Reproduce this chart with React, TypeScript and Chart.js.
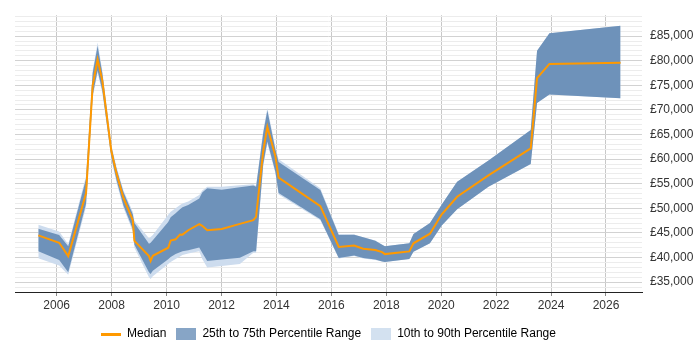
import React, { useEffect, useRef } from 'react';
import { Chart, registerables } from 'chart.js';

Chart.register(...registerables);

// ---- data (decimal years) ----
const years = [
  2005.33, 2006.09, 2006.42, 2007.07, 2007.31, 2007.49, 2007.66, 2007.99, 2008.18, 2008.43,
  2008.77, 2008.83, 2009.36, 2009.42, 2009.5, 2010.06, 2010.15, 2010.33, 2010.49, 2010.58,
  2010.79, 2011.19, 2011.3, 2011.48, 2012.01, 2012.67, 2013.16, 2013.26, 2013.52, 2013.67,
  2013.96, 2014.08, 2015.6, 2016.27, 2016.83, 2017.16, 2017.6, 2017.85, 2017.95, 2018.84,
  2018.99, 2019.59, 2020.02, 2020.58, 2021.72, 2023.26, 2023.49, 2023.94, 2026.53,
];
const median = [
  44500, 43000, 40300, 53100, 75000, 80250, 76000, 61650, 57050, 52100,
  47600, 43400, 40300, 39300, 40350, 42000, 43450, 43700, 44700, 44650,
  45550, 46800, 46450, 45550, 45800, 46850, 47600, 48250, 61650, 66550,
  60650, 56250, 50450, 42150, 42450, 41800, 41550, 41100, 40700, 41250,
  42900, 44850, 48800, 52350, 56700, 62200, 76450, 79350, 79600,
];
const p25 = [
  41300, 39500, 37000, 51000, 73000, 78000, 74000, 60400, 55700, 50600,
  45800, 42600, 37000, 36650, 37300, 39650, 40100, 40700, 41100, 41300,
  41500, 42050, 41000, 39300, 39600, 39950, 41300, 41300, 59000, 63600,
  57500, 53100, 47800, 39900, 40400, 39900, 39600, 39200, 39100, 39700,
  41200, 42900, 46500, 49800, 54400, 59000, 71400, 73150, 72350,
];
const p75 = [
  45850, 44600, 42300, 56000, 77500, 83000, 77500, 62400, 58000, 53300,
  48800, 47000, 42800, 43000, 43500, 47200, 48200, 49000, 49800, 50200,
  50700, 52000, 53200, 54100, 53800, 54300, 54650, 54400, 65300, 69900,
  62000, 59400, 53750, 44600, 44650, 44100, 43400, 42600, 42300, 42900,
  44800, 47000, 50800, 55400, 59700, 65900, 82000, 85600, 87100,
];
const p10 = [
  39850, 38400, 36500, 50300, 72500, 77500, 73500, 60000, 55200, 50100,
  45300, 42000, 36000, 35650, 36200, 38700, 39100, 39700, 40200, 40500,
  40800, 41300, 39700, 38000, 38300, 38700, 41000, 41000, 58500, 63200,
  57200, 52800, 47600, 39800, 40300, 39800, 39500, 39200, 39100, 39700,
  41200, 42900, 46500, 49800, 54400, 59000, 71400, 73150, 72350,
];
const p90 = [
  46650, 45300, 42700, 56600, 78000, 83700, 78000, 62900, 58400, 53700,
  49300, 47500, 43900, 44200, 44600, 48700, 49300, 50000, 50700, 51000,
  51400, 52700, 53600, 54400, 54400, 54700, 54900, 54600, 65800, 70400,
  62500, 60000, 54100, 44800, 44700, 44150, 43450, 42600, 42300, 42900,
  44800, 47000, 50800, 55400, 59700, 65900, 82000, 85600, 87100,
];

const xTickYears = [2006, 2008, 2010, 2012, 2014, 2016, 2018, 2020, 2022, 2024, 2026];
const yLabelValues = [35000, 40000, 45000, 50000, 55000, 60000, 65000, 70000, 75000, 80000, 85000];
const legendLabels = ['Median', '25th to 75th Percentile Range', '10th to 90th Percentile Range'];

const X_MIN = 2004.482;
const X_MAX = 2027.311;
const Y_MIN = 33000;
const Y_MAX = 89246;
const Y_MINOR_STEP = 1000;

const MEDIAN_COLOR = '#ff9900';
const IQR_COLOR = '#6e92ba';
const IQR_LEGEND = '#87a5c6';
const DECILE_COLOR = '#cddcee';
const DECILE_LEGEND = '#d3e1f0';
const FONT = { family: '"Liberation Sans", Arial, sans-serif', size: 12 };

function swatch(w: number, h: number, color: string): HTMLCanvasElement {
  const c = document.createElement('canvas');
  c.width = w;
  c.height = h;
  const g = c.getContext('2d')!;
  g.fillStyle = color;
  g.fillRect(0, 0, w, h);
  return c;
}

const centerLegendPlugin = {
  id: 'centerLegend',
  afterLayout(chart: any) {
    const lg = chart.legend;
    if (!lg) return;
    const { left, right } = chart.chartArea;
    lg.left = left;
    lg.right = right;
    lg.width = right - left;
  },
};

function pts(vals: number[]) {
  return years.map((x, i) => ({ x, y: vals[i] }));
}

export default function App() {
  const ref = useRef<HTMLCanvasElement>(null);

  useEffect(() => {
    if (!ref.current) return;
    const swatches = [
      swatch(20, 3, MEDIAN_COLOR),
      swatch(20, 12, IQR_LEGEND),
      swatch(20, 12, DECILE_LEGEND),
    ];
    const hidden = 'rgba(0,0,0,0)';
    const gridMinor: number[] = [];
    for (let v = Y_MIN; v <= Y_MAX; v += Y_MINOR_STEP) gridMinor.push(v);

    const chart = new Chart(ref.current, {
      type: 'line',
      data: {
        datasets: [
          {
            label: legendLabels[0],
            data: pts(median),
            borderColor: MEDIAN_COLOR,
            borderWidth: 2,
            pointRadius: 0,
            fill: false,
            tension: 0,
          },
          {
            label: legendLabels[1],
            data: pts(p75),
            borderColor: hidden,
            borderWidth: 0,
            backgroundColor: IQR_COLOR,
            pointRadius: 0,
            fill: 2,
          },
          {
            label: 'p25',
            data: pts(p25),
            borderColor: hidden,
            borderWidth: 0,
            pointRadius: 0,
            fill: false,
          },
          {
            label: legendLabels[2],
            data: pts(p90),
            borderColor: hidden,
            borderWidth: 0,
            backgroundColor: DECILE_COLOR,
            pointRadius: 0,
            fill: 4,
          },
          {
            label: 'p10',
            data: pts(p10),
            borderColor: hidden,
            borderWidth: 0,
            pointRadius: 0,
            fill: false,
          },
        ],
      } as any,
      options: {
        animation: false,
        responsive: false,
        devicePixelRatio: 1,
        layout: { padding: { left: 15, top: 7, right: 0, bottom: 0 } },
        plugins: {
          tooltip: { enabled: false },
          legend: {
            position: 'bottom',
            labels: {
              usePointStyle: true,
              pointStyleWidth: 20,
              boxHeight: 12,
              padding: 10,
              color: '#222',
              font: FONT,
              generateLabels: () =>
                legendLabels.map((text, i) => ({
                  text,
                  fillStyle: 'transparent',
                  strokeStyle: 'transparent',
                  lineWidth: 0,
                  pointStyle: swatches[i],
                  hidden: false,
                  datasetIndex: i === 0 ? 0 : i === 1 ? 1 : 3,
                })),
            },
          },
        },
        scales: {
          x: {
            type: 'linear',
            min: X_MIN,
            max: X_MAX,
            afterBuildTicks: (s: any) => {
              s.ticks = xTickYears.map((v) => ({ value: v }));
            },
            afterFit: (s: any) => {
              s.height = 26;
            },
            ticks: {
              autoSkip: false,
              maxRotation: 0,
              color: '#333',
              font: FONT,
              padding: 2,
              callback: (v: any) => String(v),
            },
            grid: { color: '#c8c8c8', tickLength: 4, tickColor: '#888' },
            border: { display: true, color: '#222', width: 1 },
          },
          y: {
            type: 'linear',
            position: 'right',
            min: Y_MIN,
            max: Y_MAX,
            afterBuildTicks: (s: any) => {
              s.ticks = gridMinor.map((v) => ({ value: v }));
            },
            afterFit: (s: any) => {
              s.width = 58;
            },
            ticks: {
              autoSkip: false,
              color: '#333',
              font: FONT,
              padding: 8,
              callback: (v: any) =>
                yLabelValues.includes(v)
                  ? '£' + String(v).replace(/\B(?=(\d{3})+(?!\d))/g, ',')
                  : '',
            },
            grid: {
              drawTicks: false,
              color: (ctx: any) =>
                ctx.tick && yLabelValues.includes(ctx.tick.value) ? '#d2d2d2' : '#ececec',
            },
            border: { display: false },
          },
        },
      } as any,
      plugins: [centerLegendPlugin],
    });
    return () => chart.destroy();
  }, []);

  return (
    <div style={{ position: 'absolute', left: 0, top: 0, width: 700, height: 350 }}>
      <canvas ref={ref} width={700} height={350} />
    </div>
  );
}
